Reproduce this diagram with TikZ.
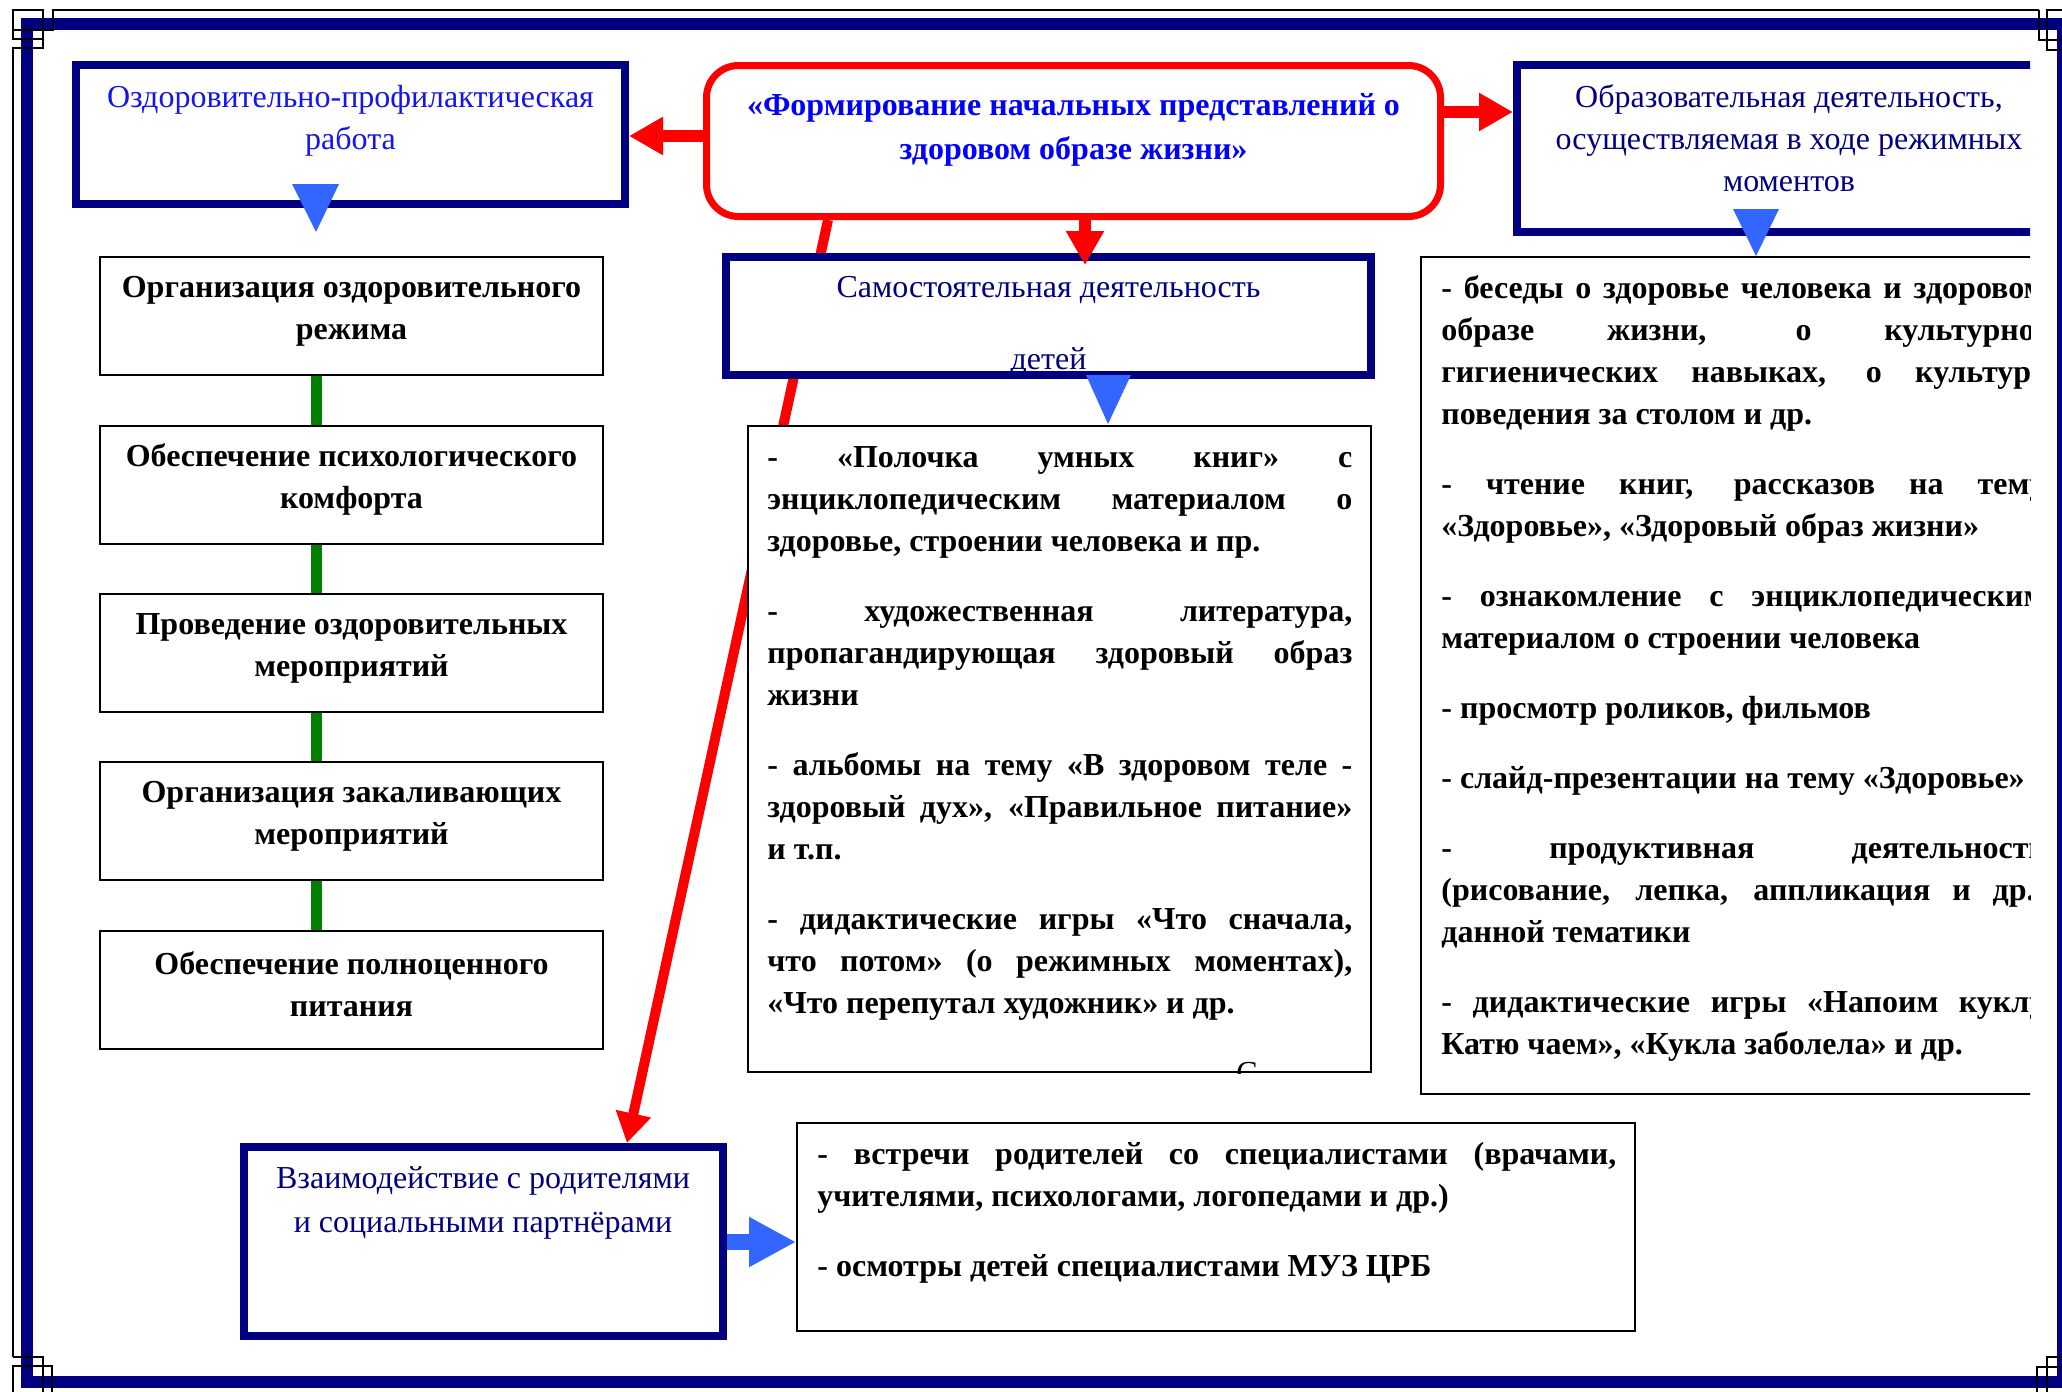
\documentclass[tikz,border=0pt]{standalone}
\usepackage{fontspec}
\setmainfont{Liberation Serif}
\usetikzlibrary{arrows.meta}
\definecolor{frame navy}{RGB}{0,0,128}
\definecolor{head blue}{RGB}{20,20,240}
\definecolor{title blue}{RGB}{0,0,255}
\definecolor{tri blue}{RGB}{51,102,255}
\definecolor{link green}{RGB}{0,128,0}
\colorlet{link red}{red}
\hyphenpenalty=10000
\exhyphenpenalty=10000
\tolerance=10000
\def\bodyfont{\fontsize{16pt}{21pt}\selectfont}
\tikzset{
    boxsize/.style 2 args={minimum width=#1*0.5pt, minimum height=#2*0.5pt},
    headbox/.style={draw=frame navy, line width=4pt, fill=white, inner sep=0pt},
    thinbox/.style={draw=black, line width=1pt, fill=white, inner sep=0pt},
    headtext/.style={text=frame navy, align=center, inner sep=0pt, font=\bodyfont},
    boxtext/.style={align=center, inner sep=0pt, font=\bodyfont\bfseries},
    listtext/.style={text width=#1*0.5pt, align=justify, inner sep=0pt, anchor=north west,
        font=\bodyfont\bfseries,
        execute at begin node={\setlength{\parskip}{14pt}\setlength{\parindent}{0pt}}},
    redarrow/.style={draw=link red, line width=6pt, -{Triangle[length=17pt,width=18pt]}},
    greenlink/.style={draw=link green, line width=5.5pt},
    tri/.style={fill=tri blue},
    orn/.style={draw=black, line width=1pt}}

\begin{document}
\begin{tikzpicture}[x=0.5pt, y=-0.5pt]
    \useasboundingbox (0,0) rectangle (2062,1392);
    % page border
    \draw[frame navy, line width=6pt] (27,24) rectangle (2063,1382);
    \draw[orn] (2039,10) -- (53,10) -- (53,30) -- (13,30);
    \draw[orn] (13,10) rectangle (43,39);
    \draw[orn] (13,1357) -- (13,48) -- (43,48) -- (43,39);
    \draw[orn] (2039,10) -- (2039,40) -- (2062,40);
    \draw[orn] (2062,10) -- (2047,10) -- (2047,50) -- (2062,50);
    \draw[orn] (2037,1392) -- (2037,1367) -- (2062,1367);
    \draw[orn] (2047,1392) -- (2047,1357) -- (2062,1357);
    \draw[orn] (13,1357) -- (43,1357) -- (43,1392);
    \draw[orn] (13,1392) -- (13,1366) -- (52,1366) -- (52,1392);

    % left column
    \node[headbox, boxsize={549}{139}] (oz) at (350.5,134.5) {};
    \node[headtext, text=head blue] (ozt) at (350.5,121) {Оздоровительно-профилактическая\\работа};
    \fill[tri] (292,184) -- (339,184) -- (316,232) -- cycle;
    \coordinate (gx) at (316,0);
    \foreach \y/\txt [count=\i] in {316/{Организация оздоровительного\\режима},
        484.5/{Обеспечение психологического\\комфорта},
        653/{Проведение оздоровительных\\мероприятий},
        821/{Организация закаливающих\\мероприятий},
        989.5/{Обеспечение полноценного\\питания}}{
        \node[thinbox, boxsize={503}{118}] (org\i) at (351.5,\y) {};
        \node[boxtext] (orgt\i) at (351.5,\y-5) {\txt};
    }
    \foreach \i [evaluate=\i as \j using int(\i+1)] in {1,...,4}
        \draw[greenlink] (org\i.south -| gx) -- (org\j.north -| gx);

    % title
    \node[draw=link red, line width=3.5pt, rounded corners=16pt, fill=white, inner sep=0pt,
        boxsize={734}{151}] (title) at (1073.5,141) {};
    \node[boxtext, text=title blue, font=\fontsize{16pt}{22pt}\selectfont\bfseries] (titlet) at (1073.5,130)
        {«Формирование начальных представлений о\\здоровом образе жизни»};

    % bottom left box and the long red link behind the middle boxes
    \node[headbox, boxsize={479}{189}] (vz) at (483.5,1241.5) {};
    \node[headtext, font=\fontsize{16pt}{22pt}\selectfont] (vzt) at (483,1203) {Взаимодействие с родителями\\и социальными партнёрами};
    \coordinate (lx1) at (828,0);
    \coordinate (lx2) at (627,0);
    \draw[draw=link red, line width=5pt, -{Triangle[length=15pt,width=17pt]}] (title.south -| lx1) -- (vz.north -| lx2);

    % middle column
    \node[thinbox, boxsize={623}{646}] (sk) at (1059.5,749) {};
    \node[listtext=585] (skt) at (767,446) {- «Полочка умных книг» с\linebreak
        энциклопедическим материалом о\linebreak
        здоровье, строении человека и пр.\par
        - художественная литература,\linebreak
        пропагандирующая здоровый образ\linebreak
        жизни\par
        - альбомы на тему «В здоровом теле -\linebreak
        здоровый дух», «Правильное питание»\linebreak
        и т.п.\par
        - дидактические игры «Что сначала,\linebreak
        что потом» (о режимных моментах),\linebreak
        «Что перепутал художник» и др.};
    \begin{scope}
        \clip (sk.south west) rectangle (sk.north east);
        \node[font=\bodyfont, anchor=base, inner sep=0pt] (skc) at (1247,1083) {С};
    \end{scope}
    \node[headbox, draw=none, outer sep=0pt, boxsize={645}{118}] (sam) at (1048.5,316) {};
    \node[headtext, anchor=base] (samt1) at (1048.5,297) {Самостоятельная деятельность};
    \node[headtext, anchor=base] (samt2) at (1048.5,369) {детей};
    \draw[frame navy, line width=4pt] (sam.south west) rectangle (sam.north east);
    \fill[tri] (1086,375) -- (1131,375) -- (1108,424) -- cycle;

    % bottom right box
    \node[thinbox, boxsize={838}{208}] (bb) at (1216,1227) {};
    \node[listtext=799] (bbt) at (817,1142) {- встречи родителей со специалистами (врачами,\linebreak
        учителями, психологами, логопедами и др.)\par
        - осмотры детей специалистами МУЗ ЦРБ};
    \coordinate (by) at (0,1242);
    \draw[draw=tri blue, line width=8pt, -{Triangle[length=23.5pt,width=23.5pt]}] (vz.east |- by) -- (bb.west |- by);

    % right column
    \begin{scope}
        \clip (0,0) rectangle (2030,1392);
        \node[headbox, boxsize={544}{167}] (obr) at (1789,148) {};
        \node[headtext] (obrt) at (1789,138.5) {Образовательная деятельность,\\осуществляемая в ходе режимных\\моментов};
        \node[thinbox, boxsize={644}{837}] (rk) at (1743,675.5) {};
        \node[listtext=604] (rkt) at (1441,275) {- беседы о здоровье человека и здоровом\linebreak
            образе жизни, о культурно-\linebreak
            гигиенических навыках, о культуре\linebreak
            поведения за столом и др.\par
            - чтение книг, рассказов на тему\linebreak
            «Здоровье», «Здоровый образ жизни»\par
            - ознакомление с энциклопедическим\linebreak
            материалом о строении человека\par
            - просмотр роликов, фильмов\par
            - слайд-презентации на тему «Здоровье»\par
            - продуктивная деятельность\linebreak
            (рисование, лепка, аппликация и др.)\linebreak
            данной тематики\par
            - дидактические игры «Напоим куклу\linebreak
            Катю чаем», «Кукла заболела» и др.};
        \fill[tri] (1733,209) -- (1779,209) -- (1756,256) -- cycle;
    \end{scope}

    % red links from the title
    \coordinate (ly) at (0,136);
    \coordinate (ry) at (0,112);
    \coordinate (dx) at (1085,0);
    \draw[redarrow] (title.west |- ly) -- (oz.east |- ly);
    \draw[redarrow] (title.east |- ry) -- (obr.west |- ry);
    \draw[redarrow, shorten >=-4pt] (title.south -| dx) -- (sam.north -| dx);
\end{tikzpicture}
\end{document}
